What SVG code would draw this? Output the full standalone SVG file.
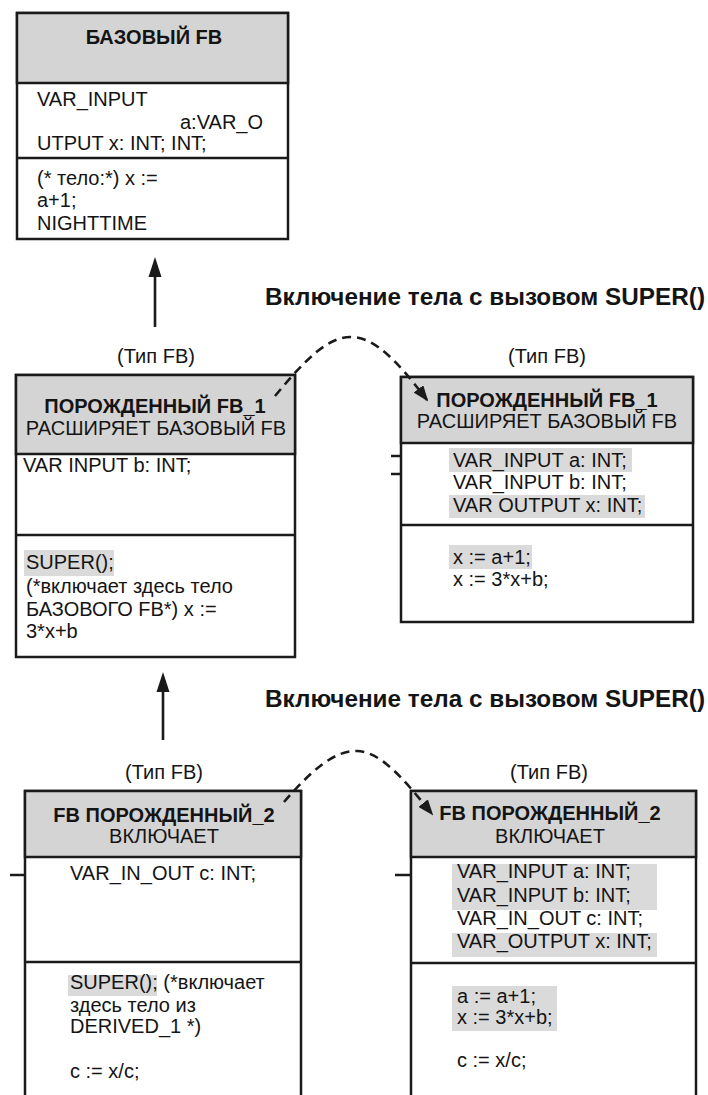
<svg xmlns="http://www.w3.org/2000/svg" width="708" height="1095" viewBox="0 0 708 1095">
<style>
.box{fill:#fff;stroke:#1a1a1a;stroke-width:2.5}
.hdr{fill:#d4d4d4;stroke:#1a1a1a;stroke-width:2.5}
.div{stroke:#1a1a1a;stroke-width:2.5}
.hl{fill:#dadada}
text{font-family:"Liberation Sans",Arial,sans-serif;fill:#141414}
.t{font-size:20px}
.b{font-size:20px;font-weight:bold}
.c{text-anchor:middle}
.title{font-size:23px;font-weight:bold}
.stub{stroke:#1a1a1a;stroke-width:2.5}
.con{fill:none;stroke:#1a1a1a;stroke-width:2.6}
.dash{fill:none;stroke:#1a1a1a;stroke-width:2.6;stroke-dasharray:9 6}
</style>
<defs>
<marker id="ah" markerWidth="16" markerHeight="12" refX="14" refY="6" orient="auto" markerUnits="userSpaceOnUse">
<path d="M0,0 L16,6 L0,12 z" fill="#1a1a1a"/>
</marker>
</defs>
<rect width="708" height="1095" fill="#fff"/>

<g id="base-fb">
<rect class="box" x="17" y="13" width="271" height="226"/>
<rect class="hdr" x="17" y="13" width="271" height="70"/>
<line class="div" x1="17" y1="158" x2="288" y2="158"/>
<text class="b c" x="154" y="44">БАЗОВЫЙ FB</text>
<text class="t" x="37" y="106">VAR_INPUT</text>
<text class="t" x="180" y="129">a:VAR_O</text>
<text class="t" x="37" y="150">UTPUT x: INT; INT;</text>
<text class="t" x="37" y="185">(* тело:*) x :=</text>
<text class="t" x="37" y="207">a+1;</text>
<text class="t" x="37" y="230">NIGHTTIME</text>
</g>

<g id="title-1">
<text class="title" x="265" y="305" textLength="440" lengthAdjust="spacingAndGlyphs">Включение тела с вызовом SUPER()</text>
</g>

<g id="derived1-left">
<text class="t c" x="156" y="363">(Тип FB)</text>
<rect class="box" x="16" y="375" width="279" height="282"/>
<rect class="hdr" x="16" y="375" width="279" height="79"/>
<line class="div" x1="16" y1="535" x2="295" y2="535"/>
<text class="b c" x="155" y="413">ПОРОЖДЕННЫЙ FB_1</text>
<text class="t c" x="156" y="435">РАСШИРЯЕТ БАЗОВЫЙ FB</text>
<text class="t" x="23" y="472">VAR INPUT b: INT;</text>
<rect class="hl" x="24" y="550" width="90" height="26"/>
<text class="t" x="26" y="569">SUPER();</text>
<text class="t" x="26" y="593">(*включает здесь тело</text>
<text class="t" x="26" y="616">БАЗОВОГО FB*) x :=</text>
<text class="t" x="26" y="638">3*x+b</text>
</g>

<g id="derived1-right">
<text class="t c" x="547" y="363">(Тип FB)</text>
<rect class="box" x="401" y="377" width="292" height="245"/>
<rect class="hdr" x="401" y="377" width="292" height="66"/>
<line class="div" x1="401" y1="525" x2="693" y2="525"/>
<line class="stub" x1="391" y1="456" x2="401" y2="456"/>
<line class="stub" x1="391" y1="474" x2="401" y2="474"/>
<text class="b c" x="547" y="407">ПОРОЖДЕННЫЙ FB_1</text>
<text class="t c" x="547" y="428">РАСШИРЯЕТ БАЗОВЫЙ FB</text>
<rect class="hl" x="449" y="448" width="183" height="24"/>
<rect class="hl" x="449" y="495" width="196" height="23"/>
<text class="t" x="453" y="467">VAR_INPUT a: INT;</text>
<text class="t" x="453" y="489">VAR_INPUT b: INT;</text>
<text class="t" x="453" y="512">VAR OUTPUT x: INT;</text>
<rect class="hl" x="449" y="545" width="83" height="24"/>
<text class="t" x="453" y="564">x := a+1;</text>
<text class="t" x="453" y="586">x := 3*x+b;</text>
</g>

<g id="title-2">
<text class="title" x="265" y="707" textLength="440" lengthAdjust="spacingAndGlyphs">Включение тела с вызовом SUPER()</text>
</g>

<g id="derived2-left">
<text class="t c" x="164" y="779">(Тип FB)</text>
<rect class="box" x="25" y="791" width="276" height="320"/>
<rect class="hdr" x="25" y="791" width="276" height="66"/>
<line class="div" x1="25" y1="962" x2="301" y2="962"/>
<line class="stub" x1="10" y1="875" x2="25" y2="875"/>
<text class="b c" x="164" y="822">FB ПОРОЖДЕННЫЙ_2</text>
<text class="t c" x="164" y="843">ВКЛЮЧАЕТ</text>
<text class="t" x="70" y="880">VAR_IN_OUT c: INT;</text>
<rect class="hl" x="68" y="975" width="89" height="21"/>
<text class="t" x="70" y="989">SUPER(); (*включает</text>
<text class="t" x="70" y="1012">здесь тело из</text>
<text class="t" x="70" y="1033">DERIVED_1 *)</text>
<text class="t" x="70" y="1078">c := x/c;</text>
</g>

<g id="derived2-right">
<text class="t c" x="549" y="779">(Тип FB)</text>
<rect class="box" x="411" y="791" width="285" height="320"/>
<rect class="hdr" x="411" y="791" width="285" height="66"/>
<line class="div" x1="411" y1="963" x2="696" y2="963"/>
<line class="stub" x1="395" y1="875" x2="411" y2="875"/>
<text class="b c" x="550" y="820">FB ПОРОЖДЕННЫЙ_2</text>
<text class="t c" x="550" y="843">ВКЛЮЧАЕТ</text>
<rect class="hl" x="452" y="864" width="205" height="46"/>
<rect class="hl" x="452" y="933" width="205" height="24"/>
<text class="t" x="457" y="878">VAR_INPUT a: INT;</text>
<text class="t" x="457" y="902">VAR_INPUT b: INT;</text>
<text class="t" x="457" y="925">VAR_IN_OUT c: INT;</text>
<text class="t" x="457" y="948">VAR_OUTPUT x: INT;</text>
<rect class="hl" x="452" y="986" width="105" height="45"/>
<text class="t" x="457" y="1003">a := a+1;</text>
<text class="t" x="457" y="1024">x := 3*x+b;</text>
<text class="t" x="457" y="1067">c := x/c;</text>
</g>

<g id="connectors">
<line class="con" x1="155" y1="327" x2="155" y2="274"/>
<polygon points="155,257 148.5,277 161.5,277" fill="#1a1a1a"/>
<line class="con" x1="163" y1="740" x2="163" y2="689"/>
<polygon points="163,672 156.5,692 169.5,692" fill="#1a1a1a"/>
<path class="dash" d="M275,396 C305,360 328,336 352,337 C376,338 398,362 427,400" marker-end="url(#ah)"/>
<path class="dash" d="M284,802 C310,772 334,750 357,751 C381,752 403,778 432,814" marker-end="url(#ah)"/>
</g>
</svg>
